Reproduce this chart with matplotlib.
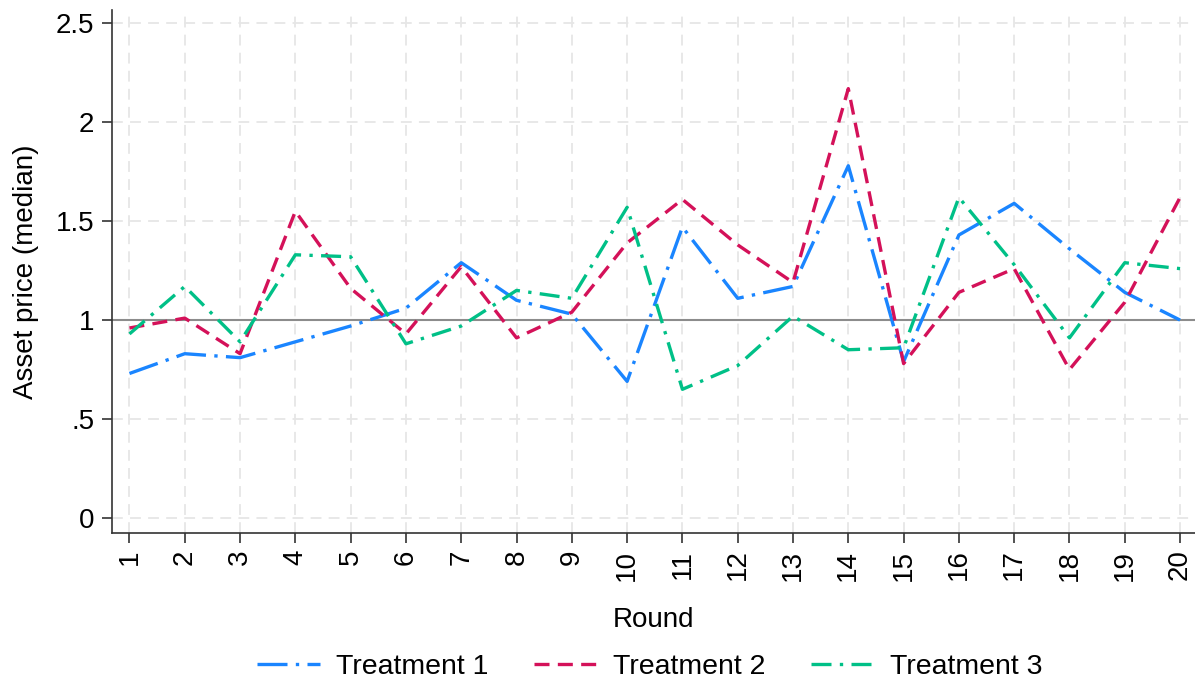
import numpy as np
import matplotlib.pyplot as plt

plt.rcParams['font.family'] = ['Liberation Sans', 'DejaVu Sans']

rounds = list(range(1, 21))
treat1 = [0.73, 0.83, 0.81, 0.89, 0.97, 1.06, 1.29, 1.10, 1.03, 0.69,
          1.47, 1.11, 1.17, 1.78, 0.79, 1.43, 1.59, 1.36, 1.14, 1.00]
treat2 = [0.96, 1.01, 0.83, 1.55, 1.16, 0.93, 1.27, 0.91, 1.04, 1.39,
          1.61, 1.38, 1.19, 2.17, 0.78, 1.14, 1.26, 0.75, 1.09, 1.62]
treat3 = [0.93, 1.17, 0.89, 1.33, 1.32, 0.88, 0.97, 1.15, 1.11, 1.57,
          0.65, 0.77, 1.02, 0.85, 0.86, 1.62, 1.28, 0.91, 1.29, 1.26]
labels = ['Treatment 1', 'Treatment 2', 'Treatment 3']
yticks = [0, 0.5, 1, 1.5, 2, 2.5]
yticklabels = ['0', '.5', '1', '1.5', '2', '2.5']

fig = plt.figure(figsize=(11.95, 6.85), dpi=100)
ax = fig.add_axes([0.094, 0.222, 0.906, 0.763])
ax.set_axisbelow(True)

ax.axhline(1, color='#8c8c8c', linewidth=1.5, zorder=2)

ax.plot(rounds, treat1, color='#1a85ff', linewidth=2.4, dashes=[9, 2.5, 1, 2.5], label=labels[0], zorder=3)
ax.plot(rounds, treat2, color='#d41159', linewidth=2.4, dashes=[4.5, 2.5], label=labels[1], zorder=3)
ax.plot(rounds, treat3, color='#00c087', linewidth=2.4, dashes=[6, 2.5, 1, 2.5], label=labels[2], zorder=3)

ax.set_xlim(0.69, 20.27)
ax.set_ylim(-0.076, 2.566)
ax.set_xticks(rounds)
ax.set_xticklabels([str(r) for r in rounds], rotation=90)
ax.set_yticks(yticks)
ax.set_yticklabels(yticklabels)
ax.tick_params(axis='both', labelsize=20, length=7, width=1.2, color='#333333')
ax.tick_params(axis='x', pad=5)
ax.tick_params(axis='y', pad=6)

ax.grid(True, color='#e6e6e6', linestyle=(0, (6, 4)), linewidth=1.3)
for s in ['top', 'right']:
    ax.spines[s].set_visible(False)
for s in ['left', 'bottom']:
    ax.spines[s].set_linewidth(1.2)
    ax.spines[s].set_color('#333333')

ax.set_xlabel('Round', fontsize=20, labelpad=19)
ax.set_ylabel('Asset price (median)', fontsize=20, labelpad=12)

fig.legend(loc='lower center', bbox_to_anchor=(0.544, -0.03), ncol=3, frameon=False,
           fontsize=20.5, handlelength=2.2, columnspacing=1.6, handletextpad=0.58)

fig.savefig('out.png', dpi=100)
